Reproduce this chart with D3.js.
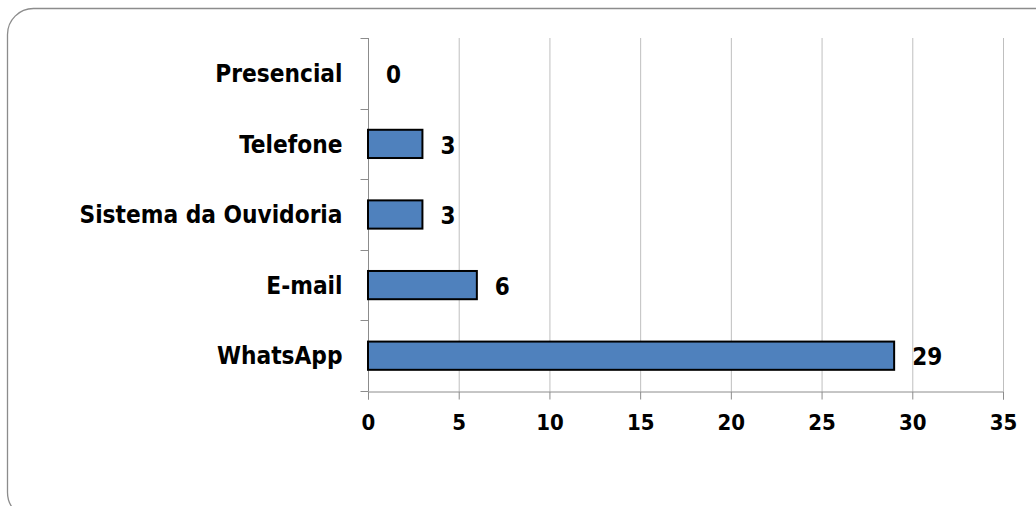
<!DOCTYPE html>
<html><head><meta charset="utf-8">
<script src="https://cdn.jsdelivr.net/npm/d3@7"></script>
<style>body{margin:0;background:#fff}svg{display:block}text{font-stretch:condensed}</style>
</head><body>
<svg id="c" width="1036" height="506"></svg>
<script>
const categories = ["Presencial","Telefone","Sistema da Ouvidoria","E-mail","WhatsApp"];
const values = [0,3,3,6,29];
const xTicks = [0,5,10,15,20,25,30,35];

const svg = d3.select("#c");
const font = "'DejaVu Sans Condensed', 'DejaVu Sans', sans-serif";
svg.append("rect").attr("x",7.5).attr("y",8.5).attr("width",1080).attr("height",510)
  .attr("rx",26).attr("fill","#fff").attr("stroke","#8c8c8c").attr("stroke-width",1.3);

const m = {left:368, right:1003, top:38, bottom:391};
const x = d3.scaleLinear().domain([0,35]).range([m.left,m.right]);
const y = d3.scaleBand().domain(categories).range([m.top,m.bottom]).paddingInner(0.6).paddingOuter(0.3);
const yb = d3.scaleBand().domain(categories).range([m.top,m.bottom]);

// gridlines
svg.append("g").selectAll("line").data(xTicks.slice(1)).join("line")
  .attr("x1",d=>x(d)+0.5).attr("x2",d=>x(d)+0.5).attr("y1",m.top).attr("y2",m.bottom)
  .attr("stroke","#bfbfbf").attr("stroke-width",1);

// x axis
const xa = svg.append("g").attr("transform",`translate(0,${m.bottom+0.5})`)
  .call(d3.axisBottom(x).tickValues(xTicks).tickSize(8).tickPadding(15));
xa.select(".domain").attr("stroke","#8c8c8c");
xa.selectAll(".tick line").attr("stroke","#8c8c8c");
xa.selectAll("text").attr("font-family",font).attr("font-weight","bold").attr("font-size",22).attr("fill","#000");

// y axis
const yAxisG = svg.append("g").attr("transform",`translate(${m.left+0.5},0)`);
yAxisG.append("line").attr("x1",0).attr("x2",0).attr("y1",m.top).attr("y2",m.bottom).attr("stroke","#8c8c8c");
const bounds = categories.map(c=>yb(c)).concat([m.bottom]);
yAxisG.selectAll("line.t").data(bounds).join("line").attr("class","t")
  .attr("x1",-8).attr("x2",0).attr("y1",d=>Math.round(d)+0.5).attr("y2",d=>Math.round(d)+0.5).attr("stroke","#8c8c8c");
yAxisG.selectAll("text").data(categories).join("text")
  .attr("x",-26).attr("y",d=>yb(d)+yb.bandwidth()/2).attr("dy","0.36em")
  .attr("text-anchor","end").attr("font-family",font).attr("font-weight","bold").attr("font-size",24.2)
  .text(d=>d);

// bars
const data = categories.map((c,i)=>({c,v:values[i]}));
svg.append("g").selectAll("rect").data(data.filter(d=>d.v>0)).join("rect")
  .attr("x",x(0)).attr("y",d=>y(d.c)).attr("width",d=>x(d.v)-x(0)).attr("height",y.bandwidth())
  .attr("fill","#4f81bd").attr("stroke","#000").attr("stroke-width",2);

svg.append("g").selectAll("text").data(data).join("text")
  .attr("x",d=>x(d.v)+18).attr("y",d=>yb(d.c)+yb.bandwidth()/2).attr("dy","0.4em")
  .attr("font-family",font).attr("font-weight","bold").attr("font-size",24)
  .text(d=>d.v);
</script>
</body></html>
